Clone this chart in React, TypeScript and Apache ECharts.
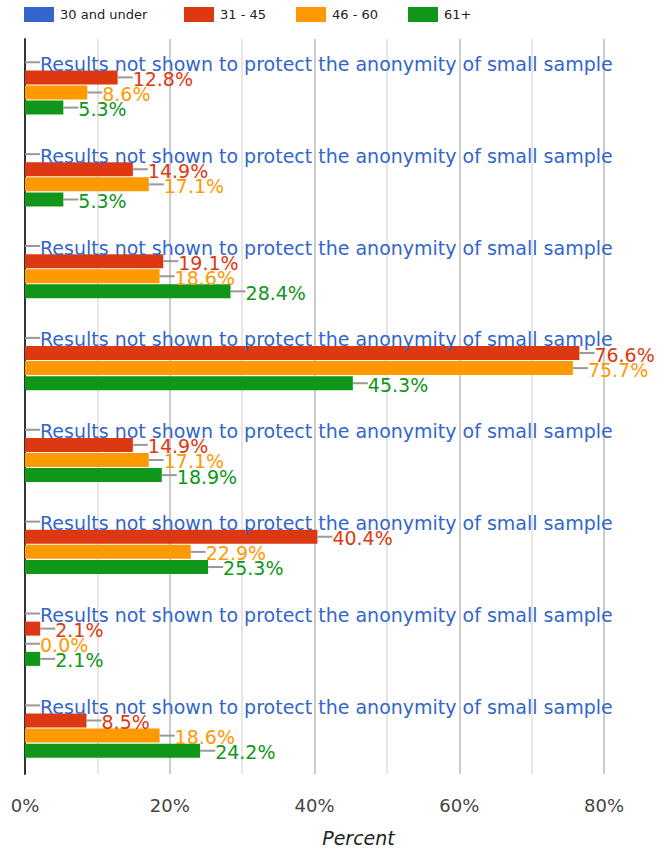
import React, { useEffect, useRef } from "react";
import * as echarts from "echarts";

const categories = ["Item 1", "Item 2", "Item 3", "Item 4", "Item 5", "Item 6", "Item 7", "Item 8"];
const seriesNames = ["30 and under", "31 - 45", "46 - 60", "61+"];
const under30 = [0, 0, 0, 0, 0, 0, 0, 0];
const age31to45 = [12.8, 14.9, 19.1, 76.6, 14.9, 40.4, 2.1, 8.5];
const age46to60 = [8.6, 17.1, 18.6, 75.7, 17.1, 22.9, 0.0, 18.6];
const age61plus = [5.3, 5.3, 28.4, 45.3, 18.9, 25.3, 2.1, 24.2];
const suppressedText = "Results not shown to protect the anonymity of small sample";
const xTicks = [0, 10, 20, 30, 40, 50, 60, 70, 80];
const colors = ["#3366cc", "#dc3912", "#ff9900", "#109618"];
const legendLeft = [24, 184, 296, 408];

const FONT = "DejaVu Sans";

export default function App() {
  const ref = useRef<HTMLDivElement>(null);
  useEffect(() => {
    if (!ref.current) return;
    const chart = echarts.init(ref.current, null, { renderer: "svg" });
    const values = [under30, age31to45, age46to60, age61plus];
    const series = values.map((data, i) => ({
      name: seriesNames[i],
      type: "bar",
      data,
      barWidth: 14,
      barGap: "8%",
      itemStyle: { color: colors[i] },
      label: {
        show: true,
        position: "right",
        distance: 0,
        fontFamily: FONT,
        fontSize: 19,
        color: colors[i],
        formatter: (p: any) =>
          `{l|}{t|${i === 0 ? suppressedText : Number(p.value).toFixed(1) + "%"}}`,
        rich: {
          l: { width: 15, height: 2, backgroundColor: "#999999", verticalAlign: "middle" },
          t: {
            color: colors[i],
            fontSize: 19,
            fontFamily: FONT,
            verticalAlign: "middle",
            lineHeight: 19,
            padding: [3, 0, 0, 0],
          },
        },
      },
    }));
    chart.setOption({
      animation: false,
      color: colors,
      textStyle: { fontFamily: FONT },
      legend: seriesNames.map((n, i) => ({
        data: [n],
        left: legendLeft[i],
        top: 7,
        padding: 0,
        itemWidth: 30,
        itemHeight: 15,
        itemStyle: { borderWidth: 0 },
        icon: "rect",
        selectedMode: false,
        textStyle: { color: "#222", fontSize: 13, fontFamily: FONT, padding: [0, 0, 0, 1] },
      })),
      grid: { left: 25, right: 53, top: 39, bottom: 66, containLabel: false },
      xAxis: {
        type: "value",
        min: 0,
        max: 80,
        interval: 10,
        axisLine: { show: false },
        axisTick: { show: false },
        splitLine: { show: true, lineStyle: { color: ["#cccccc", "#e6e6e6"], width: 2 } },
        axisLabel: {
          color: "#444",
          fontSize: 18,
          fontFamily: FONT,
          margin: 22,
          formatter: (v: number) => (xTicks.indexOf(v) % 2 === 0 ? `${v}%` : ""),
        },
        name: "Percent",
        nameLocation: "middle",
        nameGap: 54,
        nameTextStyle: {
          color: "#222",
          fontSize: 19,
          fontStyle: "italic",
          fontFamily: FONT,
          padding: [0, 0, 0, 88],
        },
      },
      yAxis: {
        type: "category",
        data: categories,
        inverse: true,
        axisLabel: { show: false },
        axisTick: { show: false },
        axisLine: { show: true, lineStyle: { color: "#333", width: 2 } },
        splitLine: { show: false },
      },
      series,
    });
    return () => chart.dispose();
  }, []);
  return <div ref={ref} style={{ width: 657, height: 852, position: "absolute", left: 0, top: 0 }} />;
}
